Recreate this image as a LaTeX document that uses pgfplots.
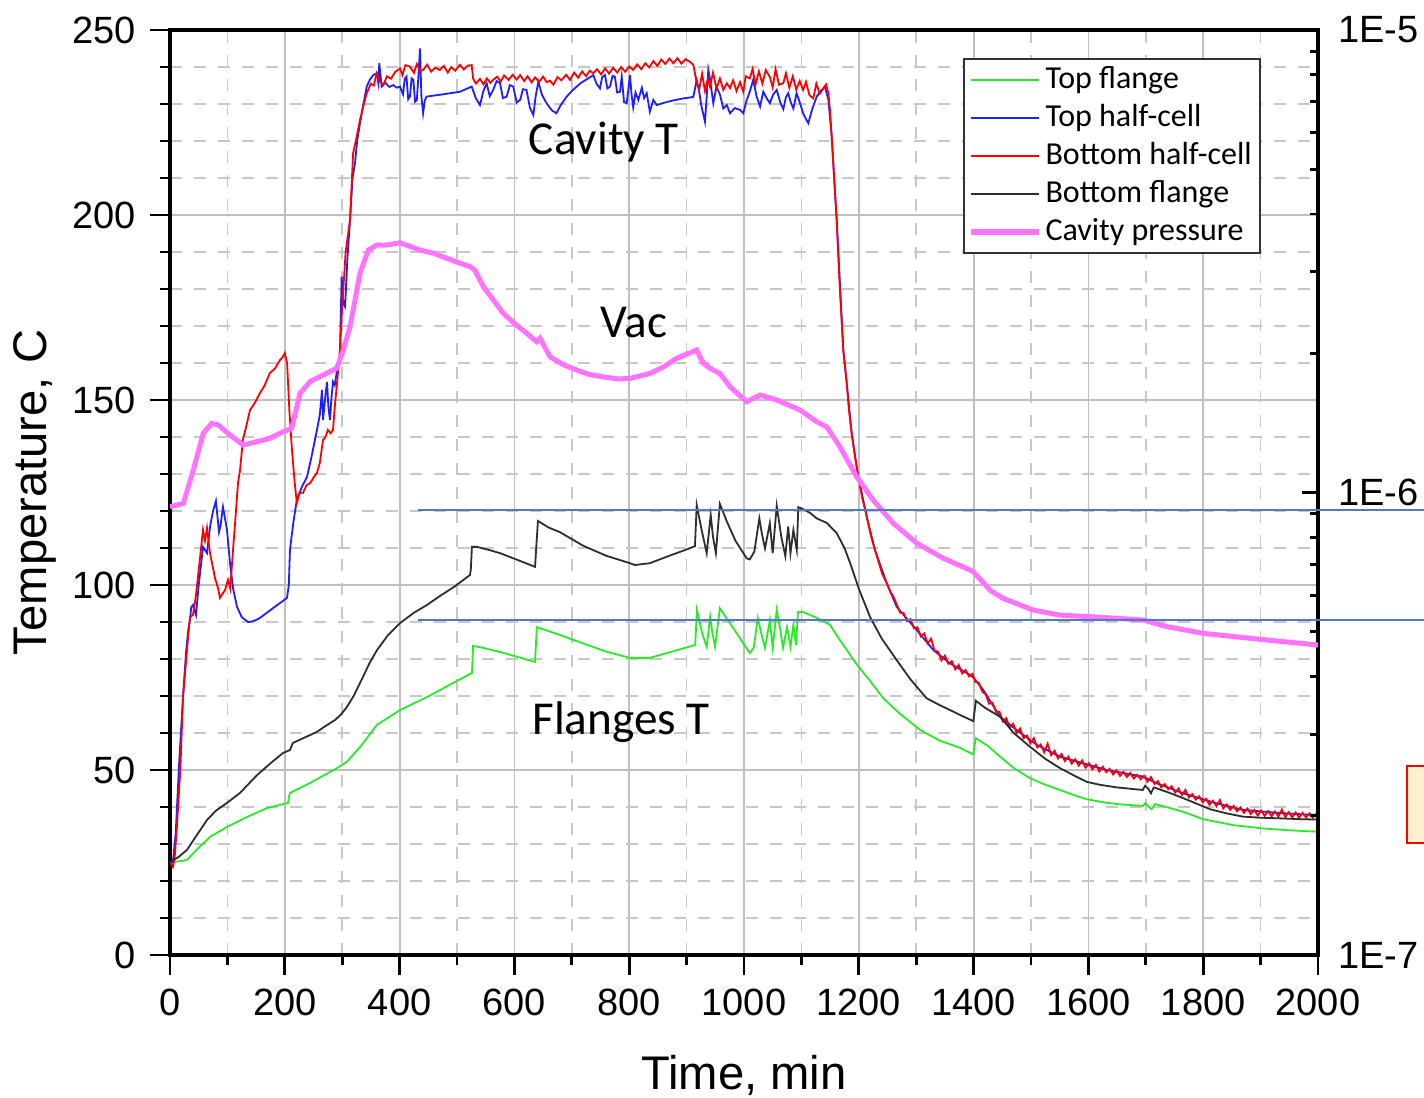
\documentclass[border=0pt]{standalone}
\usepackage{pgfplots}
\pgfplotsset{compat=1.18}
\usepackage{fontspec}
\setmainfont{Liberation Sans}
\newfontfamily\calibri{Carlito}
\definecolor{greenc}{RGB}{40,235,40}
\definecolor{bluec}{RGB}{30,30,255}
\definecolor{redc}{RGB}{255,0,0}
\definecolor{blackc}{RGB}{45,45,45}
\definecolor{pinkc}{RGB}{255,115,255}
\definecolor{annblue}{RGB}{80,120,200}
\definecolor{boxfill}{RGB}{255,241,208}
\begin{document}
\begin{tikzpicture}
\begin{axis}[
  scale only axis, width=287pt, height=231.25pt,
  xmin=0, xmax=2000, ymin=0, ymax=250,
  xtick={0,200,...,2000}, minor x tick num=1,
  ytick={0,50,...,250}, minor y tick num=4,
  xtick pos=bottom, ytick pos=left,
  tick align=outside,
  major tick length=5pt, minor tick length=2.5pt,
  every tick/.style={black, line width=0.7pt},
  axis line style={line width=0.8pt},
  grid=both,
  major grid style={black!25, line width=0.45pt},
  minor grid style={black!22, dashed, line width=0.4pt},
  /pgf/number format/assume math mode=true,
  /pgf/number format/1000 sep={},
  scaled ticks=false,
  tick label style={font=\fontsize{9.5}{11}\selectfont},
  xlabel={Time, min}, ylabel={Temperature, C},
  label style={font=\fontsize{11.8}{14}\selectfont},
  xlabel style={at={(axis description cs:0.5,-0.1297)}, anchor=center},
  ylabel style={at={(axis description cs:-0.1176,0.5)}, anchor=center},
  legend style={at={(0.6908,0.9697)}, anchor=north west, draw=black!80, line width=0.5pt,
    font=\calibri\fontsize{8}{9}\selectfont, inner xsep=1pt, inner ysep=0.5pt,
    nodes={inner sep=1pt, text height=5.8pt, text depth=1.7pt}},
  legend cell align=left,
]
\addplot[greenc, line width=0.45pt] coordinates {
(0,25.1) (15,25.3) (29.6,25.7) (50,29) (69.7,31.9) (99.3,34.6) (134,37.3) (169,39.7) (205.6,41.1) (207,42.5) (209,43.8) (244,46.5) (291,50.5) (308,52.2) (331,56.2) (360.6,62.2) (400.7,66.2) (447.7,69.7) (493,73.5) (526,76.2) (528,83.5) (540,83.2) (575,81.9) (636,79.2) (639,88.6) (679,86.5) (720,84.2) (760,82) (801,80.3) (836,80.3) (870,81.8) (915,83.8) (918,93.2) (927,87) (935,83.3) (941,91.4) (945,87) (949.5,83.3) (958,93.7) (985,87.5) (1010,81.6) (1017,83) (1024,91.1) (1030,87) (1036.6,83) (1045,90.5) (1050,83) (1057,93.2) (1063,88) (1068,83) (1075,88.6) (1081,83.3) (1086,89.2) (1090.6,83.8) (1094,92.7) (1103,92.7) (1127,91.1) (1150,89.2) (1167,85.1) (1197,78.4) (1220,74) (1242,69.5) (1270,65.4) (1307,60.8) (1340,58) (1376,56) (1399.5,54.2) (1401,56) (1404,58.6) (1425,56.5) (1446,53.6) (1470,50.5) (1498,47.8) (1525,46) (1550.5,44.6) (1575,43.2) (1597,42.1) (1625,41.3) (1649,40.8) (1675,40.5) (1695.6,40.3) (1698.6,41) (1704,40.2) (1710,39.4) (1716,40.8) (1740,39.8) (1765,38.7) (1800,36.7) (1852,35.1) (1904,34.2) (1950,33.7) (2000,33.3)
};
\addlegendentry{Top flange}
\addplot[bluec, line width=0.45pt] coordinates {
(0,25.1) (5,25) (10,33) (16,52) (22.6,69.5) (28,82) (32,88) (34.8,90.5) (37,94) (40,94.6) (45.3,91.9) (50,100) (57.5,110.3) (64.5,108.6) (69.7,115.7) (75,120) (80,122.7) (85.4,114.3) (88,116) (92.3,121.1) (99.3,114.9) (104.5,105.9) (110,99) (116.7,94.1) (125,91.3) (136,90) (145,90.2) (156.8,91.1) (180,93.8) (203.8,96.5) (207,100) (209,109.5) (215,117) (221,123) (230,126.6) (238.7,129.2) (247,135) (256,141.9) (261,146) (264.8,152.7) (266.6,144.6) (270,150) (273.5,154.9) (276,148) (278.7,144.6) (281,150) (284,154.9) (287,154) (291,158.1) (296,162) (299,183.3) (302,176) (305,175.2) (309,188) (313.6,198.6) (318,210) (322.3,214) (326,220) (331,224.8) (337,230) (342.7,234.7) (348,236.5) (354,237.8) (360,238.3) (363,235.6) (364.6,241) (368.8,234.7) (375,235.8) (382,234.6) (389,235.1) (395,234.4) (400.7,234.7) (406,232.6) (409,236.8) (412,237.4) (415,231.3) (418,232) (421,236.9) (424,236.5) (427,230.6) (430,231.1) (433,238) (435.5,245) (438,232) (441,227.5) (444,231) (447,232) (475,232.6) (505,233.3) (525.6,234.7) (533,231.5) (540,229.7) (546,233.5) (551.7,235.6) (557,232.1) (563,233.8) (569,236.2) (575,235.6) (580,231.6) (586.6,232) (592,235.1) (598,234.7) (604,230.4) (610,231.1) (615,234) (621,233.8) (627,229) (633,227) (637,232) (641.6,236) (648,232.5) (656,230.2) (665,228.3) (673.3,227.5) (680,229.5) (690,231.8) (700,233.5) (715,235.6) (737.5,237.8) (743,235.5) (749,234.2) (753,237.3) (757.8,237.8) (762,234.2) (766.6,234.7) (771,237.6) (775,237.4) (779,233.1) (784,233.3) (787,237.4) (791,230.5) (795.6,230.2) (801.4,237.8) (804,232.7) (807,229.1) (811,233.1) (816,231.1) (822,234.4) (826,231.6) (830.5,232.9) (836,227.9) (842,231.1) (848,229.7) (860,230.3) (875,230.9) (894,231.5) (911.7,231.9) (917.6,236.5) (922,233.3) (926,229.3) (932,225.2) (935,232) (937.8,239.2) (941,236.4) (946.5,230.2) (952,234.7) (958,232.6) (964,228.8) (970,229.7) (975.6,227.5) (984,228.9) (993,228.4) (998.8,227.5) (1004,230.7) (1010,233.3) (1016,236.5) (1022,232) (1028,229.3) (1033.6,233.3) (1039,231.7) (1045,230.2) (1051,232.6) (1057,233.8) (1063,230.5) (1068.5,228.6) (1073,231.8) (1077,232.9) (1082,230.2) (1086,228.8) (1091.6,232.9) (1097,230.5) (1103,227.5) (1108,225.9) (1112,224.8) (1119,228.7) (1126.7,232) (1134,233.6) (1141,234.7) (1147,231.1) (1152.8,221.2) (1161.5,198.6) (1173,163.5) (1179,154.5) (1187.6,141) (1199,129.3) (1213.8,118.5) (1228,109.5) (1248.6,100.5) (1266,94.1) (1301,87.8) (1330,82.4) (1359,78.8) (1393.7,75.7) (1399.5,75) (1417,71.6) (1446,64.4) (1475,60.8) (1510,56.8) (1550.5,53.6) (1591,51.8) (1632,50) (1695.6,48.2) (1719,46.4) (1765,43.7) (1823,41) (1870,39.2) (1939.6,38.3) (2000,37.8)
};
\addlegendentry{Top half-cell}
\addplot[redc, line width=0.45pt] coordinates {
(0,25.1) (5,23.8) (8,26) (12,34.6) (18,50) (22.6,69.5) (29.6,82.4) (34.8,91.4) (40,91.9) (45,97) (50,104) (57.5,114.9) (61,112) (64.5,115.4) (69.7,108.6) (78.4,101.9) (84,99) (87,96.5) (91,97.5) (95.8,98.6) (101,101.4) (105,99) (109.8,109.5) (114,118) (118.5,127.6) (122,131) (127,139.2) (133,143) (139.4,147.3) (147,149) (156.8,151.9) (165,154) (174,157.3) (183,158.5) (191.6,160.8) (196,161.5) (200,162.7) (204,160) (208,147) (212.5,136.5) (217,128) (221,122.2) (226,125) (231.7,124.9) (238,127) (244,127.5) (250,129) (256,130.3) (261,133) (266.6,139.2) (271,140) (275,141.9) (280,141) (284,141.9) (287,148) (291,154.6) (296,163.5) (300,175) (306,190) (313.6,198.6) (319,216.7) (325,221) (331,225.7) (337,229.5) (342.7,232.9) (350,235.5) (355,235) (360,238.3) (366,236) (371.6,235.1) (378,237.5) (385,236.8) (392,238.6) (400.7,239.6) (405,237.8) (410,240.5) (418,240.1) (425,238.4) (430,240.8) (436,238.9) (441,239.2) (448,240.6) (455,238.7) (462,239.8) (470,239.2) (477,240.3) (484,238.5) (490,240) (497,239) (505,240.6) (512,239.3) (519,240.4) (525.6,240.5) (528,236.9) (533,235.5) (540,236.8) (546,235.3) (552,236.9) (558,235.7) (563,236.5) (570,237.4) (576,236) (582,237.7) (590,236.5) (597,237.9) (604,236.6) (610,237.8) (617,236.2) (623,237.5) (630,235.8) (636,237.2) (643,236) (650,237.4) (656,235.9) (662,236.3) (668,235.2) (675,237.3) (682,236.4) (690,237.9) (697,236.5) (704,238.5) (711,237.1) (718,238.8) (725,237.5) (731,239) (737.5,238.3) (744,239.4) (751,238) (758,239.6) (765,238.2) (772,239.8) (779,238.5) (786,240) (793,238.7) (800,240.1) (807,239.2) (814,240.7) (821,239.4) (828,241) (835,239.9) (842,241.6) (849,240.3) (856,242) (863,240.8) (870,242.3) (877,241) (884,242.4) (891,240.9) (898,242.1) (906,241.4) (912,240.5) (917.6,235.6) (922,234) (927,238.2) (932,233.5) (937,236.8) (940.8,234.7) (946,238.5) (952,234.2) (958,236.9) (964,233.8) (970,235.6) (975.6,234.3) (981,236.4) (987,233.5) (993,235.9) (998.8,233.3) (1003,237.5) (1010,236.9) (1015,239.5) (1020,235.2) (1026,238.8) (1032,235.5) (1038,239.2) (1045,237.3) (1050,234.5) (1055,239.4) (1061,235.2) (1068.5,235.6) (1073,238.3) (1079,234.4) (1085,237.5) (1091,233.9) (1097,236.2) (1103,233.8) (1108,236) (1114,232.4) (1120.7,231.5) (1126,235.5) (1132,232.8) (1138,234.2) (1143,235.3) (1147,232.9) (1150,228) (1152.8,221.2) (1157,210) (1161.5,198.6) (1167,180) (1173,163.5) (1179,154.5) (1183,147) (1187.6,141) (1193,135) (1199,129.3) (1206,123.5) (1213.8,118.5) (1220,114) (1228,109.5) (1234,106.5) (1241,102.9) (1248.6,100.5) (1255,98.2) (1261,96.6)
(1266,94.8) (1272,92.5) (1278,92.4) (1284,90.2) (1290,90.8) (1296,88.3) (1302,88.6) (1308,86.1) (1314,86.9) (1320,84.2) (1326,85.5) (1332,82.2) (1338,82.0) (1344,79.6) (1350,80.9) (1356,78.7) (1362,79.4) (1368,77.2) (1374,78.4) (1380,76.1) (1386,77.0) (1392,75.3) (1398,76.0) (1403,73.8) (1409,73.6) (1415,71.2) (1421,70.4) (1427,67.9) (1433,68.2) (1439,65.7) (1445,65.8) (1451,63.1) (1457,64.0) (1463,61.4) (1469,62.5) (1475,60.0) (1481,61.2) (1487,58.6) (1493,59.3) (1499,57.2) (1505,58.6) (1511,56.1) (1517,56.9) (1523,54.8) (1529,57.1) (1535,54.0) (1541,55.2) (1547,53.1) (1553,54.3) (1559,52.4) (1565,53.6) (1571,51.7) (1577,52.9) (1583,51.2) (1589,52.6) (1595,50.6) (1601,51.8) (1607,50.2) (1613,51.4) (1619,49.6) (1625,50.9) (1631,49.4) (1637,50.3) (1643,48.8) (1649,49.9) (1655,48.4) (1661,49.5) (1667,48.1) (1673,49.2) (1679,47.7) (1685,48.7) (1691,47.5) (1697,48.4) (1703,46.9) (1709,48.1) (1715,46.2) (1721,47.0) (1727,45.3) (1733,46.2) (1739,44.8) (1745,45.6) (1751,43.9) (1757,45.0) (1763,43.2) (1769,44.6) (1775,42.6) (1781,43.5) (1787,42.0) (1793,42.9) (1799,41.3) (1805,42.2) (1811,40.6) (1817,41.7) (1823,40.2) (1829,41.9) (1835,39.6) (1841,40.7) (1847,39.2) (1853,40.3) (1859,38.8) (1865,39.9) (1871,38.4) (1877,39.6) (1883,38.1) (1889,39.2) (1895,37.7) (1901,39.0) (1907,37.6) (1913,38.9) (1919,37.5) (1925,38.8) (1931,37.4) (1937,39.3) (1943,37.3) (1949,38.6) (1955,37.2) (1961,38.5) (1967,37.1) (1973,38.4) (1979,37.2) (1985,38.3) (1991,37.1) (1997,38.2) (2000,37.6)
};
\addlegendentry{Bottom half-cell}
\addplot[blackc, line width=0.45pt] coordinates {
(0,25.1) (15,26.5) (29.6,28.4) (45,32) (64.5,36.5) (80,39) (99.3,41.1) (122,43.8) (151.6,48.6) (175,51.8) (197,54.6) (209,55.4) (214,57.3) (235,58.8) (256,60.3) (272,62) (287.5,63.5) (298,65) (308,67) (320,70) (336,75.1) (348,79) (360.6,82.4) (380,86.5) (400.7,89.7) (425,92.5) (447.7,94.6) (470,97) (495,99.5) (522.6,102.7) (524,104) (526,110.3) (535,110.3) (555,109.5) (575,108.6) (605,106.8) (636,104.9) (638,110) (641,117.3) (660,115.5) (679,114.3) (720,110.6) (760,107.9) (801,105.9) (810,105.4) (836,105.9) (870,107.9) (900,109.6) (914.6,110.5) (917.6,121.6) (926,115) (935,108.6) (942,118.9) (946,113) (951,108.6) (958,121.9) (970,117.2) (985,112) (1004.7,107.2) (1010,106.9) (1018,109) (1026.7,118) (1031,114) (1036.6,109.9) (1045,116.7) (1050,108.6) (1057,121.4) (1065,113) (1072,107.8) (1077,115.8) (1081,108.6) (1086,114.9) (1092,109.5) (1094.6,121) (1100.5,120.7) (1115,119.5) (1126.7,118) (1144,116.8) (1161.5,114) (1175,110) (1185,105.9) (1200,99) (1219.5,91.4) (1240,85.5) (1266,79.7) (1290,74.5) (1318,69.4) (1340,67.6) (1359,66.2) (1380,64.6) (1399.5,63.2) (1401,65) (1404,68.7) (1420,66.8) (1446,64.4) (1470,60) (1498,56.3) (1525,53) (1550.5,50.5) (1575,48.5) (1597,46.8) (1620,46) (1649,45.3) (1675,44.9) (1694.6,44.6) (1698.6,45.7) (1704,45) (1709,43.7) (1714,45.3) (1740,43.9) (1765,42.4) (1790,40.8) (1812,39.4) (1840,38.3) (1869,37.4) (1900,37.1) (1939,36.9) (1970,36.7) (2000,36.6)
};
\addlegendentry{Bottom flange}
\addlegendimage{pinkc, line width=1.3pt}
\addlegendentry{Cavity pressure}
\node[font=\calibri\fontsize{11.8}{14}\selectfont] at (axis cs:756,219.7) {Cavity T};
\node[font=\calibri\fontsize{11.8}{14}\selectfont] at (axis cs:808,171) {Vac};
\node[font=\calibri\fontsize{11.8}{14}\selectfont] at (axis cs:786,63) {Flanges T};
\end{axis}
\begin{axis}[
  scale only axis, width=287pt, height=231.25pt,
  xmin=0, xmax=2000, ymode=log, ymin=1e-7, ymax=1e-5,
  axis x line=none, axis y line*=right,
  axis line style={line width=0.8pt},
  ytick={1e-7,1e-6,1e-5}, yticklabels={1E-7,1E-6,1E-5},
  minor ytick={2e-7,3e-7,4e-7,5e-7,6e-7,7e-7,8e-7,9e-7,2e-6,3e-6,4e-6,5e-6,6e-6,7e-6,8e-6,9e-6},
  tick align=inside,
  major tick length=4pt, minor tick length=2pt,
  every tick/.style={black, line width=0.7pt},
  tick label style={font=\fontsize{9.5}{11}\selectfont},
  yticklabel style={xshift=1.5pt},
]
\addplot[pinkc, line width=1.25pt] coordinates {
(0,9.32e-7) (23.2,9.47e-7) (40.6,1.118e-6) (58,1.343e-6) (72.6,1.411e-6) (84.1,1.40e-6) (104.5,1.331e-6) (127.7,1.267e-6) (151,1.288e-6) (174.2,1.31e-6) (197.4,1.354e-6) (212,1.377e-6) (226.5,1.639e-6) (244,1.737e-6) (267,1.795e-6) (290.4,1.856e-6) (302,2.033e-6) (313.6,2.283e-6) (331,2.979e-6) (345.5,3.344e-6) (360,3.428e-6) (380,3.43e-6) (400.7,3.468e-6) (435.5,3.344e-6) (460,3.29e-6) (482,3.21e-6) (500,3.15e-6) (522.6,3.078e-6) (531,3.028e-6) (546,2.786e-6) (580.7,2.44e-6) (600,2.32e-6) (621.4,2.209e-6) (638.8,2.119e-6) (644.6,2.155e-6) (662,1.966e-6) (685,1.89e-6) (708.5,1.84e-6) (730,1.80e-6) (755,1.779e-6) (780,1.76e-6) (801,1.765e-6) (836,1.809e-6) (860,1.87e-6) (882.7,1.951e-6) (917.6,2.033e-6) (929,1.903e-6) (941,1.856e-6) (958,1.809e-6) (975.6,1.693e-6) (1004.7,1.572e-6) (1028,1.625e-6) (1057,1.585e-6) (1097.6,1.508e-6) (1126.7,1.422e-6) (1144,1.387e-6) (1167,1.256e-6) (1196.3,1.082e-6) (1225,9.63e-7) (1260,8.58e-7) (1301,7.77e-7) (1347,7.21e-7) (1393.7,6.80e-7) (1399.5,6.74e-7) (1428.6,6.15e-7) (1451.7,5.90e-7) (1504,5.57e-7) (1550.5,5.43e-7) (1603,5.39e-7) (1695.6,5.30e-7) (1736.4,5.13e-7) (1800,4.96e-7) (1881.5,4.84e-7) (1939.5,4.76e-7) (2000,4.68e-7)
};
\end{axis}
\draw[annblue, line width=0.4pt] (62pt,111.25pt) -- (330pt,111.25pt);
\draw[annblue, line width=0.4pt] (62pt,83.75pt) -- (330pt,83.75pt);
\draw[redc, fill=boxfill, line width=0.4pt] (309.25pt,28pt) rectangle (335pt,47.25pt);
\pgfresetboundingbox
\useasboundingbox (-42.5pt,-35.75pt) rectangle (313.5pt,238.75pt);
\end{tikzpicture}
\end{document}
